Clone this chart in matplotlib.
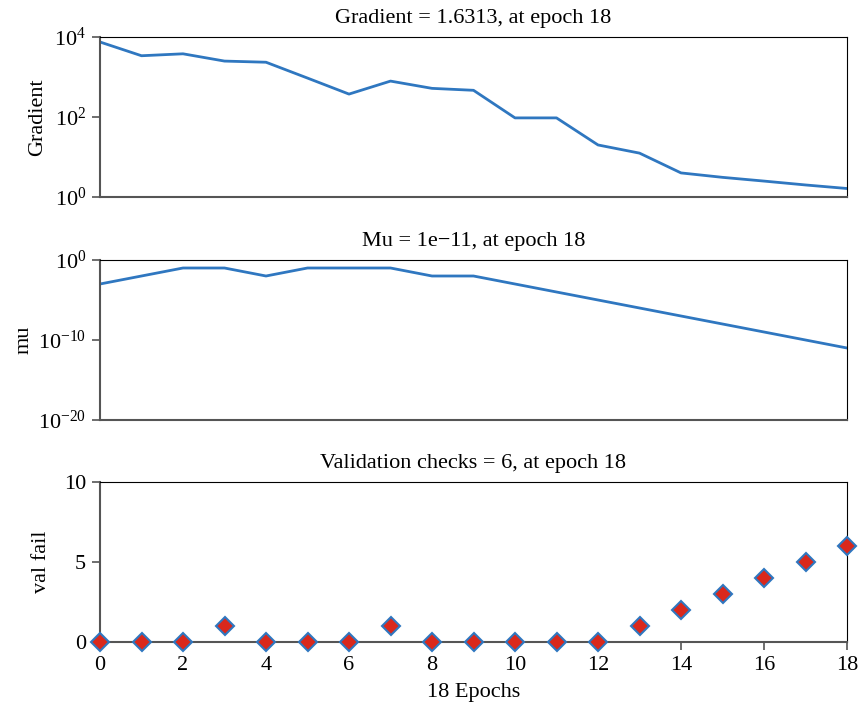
import matplotlib
matplotlib.use("Agg")
import matplotlib.pyplot as plt
import numpy as np

# ── Data ─────────────────────────────────────────────────────────────────────
epochs = list(range(19))
gradient = [7500, 3400, 3800, 2500, 2340, 940, 374, 790, 520, 465,
            95, 95, 20, 12.5, 4.0, 3.1, 2.5, 2.0, 1.6313]
mu = [1e-3, 1e-2, 1e-1, 1e-1, 1e-2, 1e-1, 1e-1, 1e-1, 1e-2, 1e-2,
      1e-3, 1e-4, 1e-5, 1e-6, 1e-7, 1e-8, 1e-9, 1e-10, 1e-11]
val_fail = [0, 0, 0, 1, 0, 0, 0, 1, 0, 0, 0, 0, 0, 1, 2, 3, 4, 5, 6]

titles = ["Gradient = 1.6313, at epoch 18",
          "Mu = 1e\u221211, at epoch 18",
          "Validation checks = 6, at epoch 18"]
ylabels = ["Gradient", "mu", "val fail"]
xticks = list(range(0, 19, 2))

# ── Style ────────────────────────────────────────────────────────────────────
plt.rcParams["font.family"] = ["Liberation Serif", "DejaVu Serif"]
plt.rcParams["mathtext.fontset"] = "custom"
plt.rcParams["mathtext.rm"] = "Liberation Serif"
plt.rcParams["mathtext.it"] = "Liberation Serif:italic"

FS = 16
LINE = "#2f77c0"
FACE = "#d9281c"
SPINE = "#555555"

fig = plt.figure(figsize=(8.6, 7.12), dpi=100)
left, width = 100 / 860, 747 / 860
rows = [(37, 197), (260, 420), (482, 642)]
axes = [fig.add_axes([left, 1 - b / 712, width, (b - t) / 712]) for t, b in rows]

for ax, title, ylabel in zip(axes, titles, ylabels):
    ax.set_title(title, fontsize=FS, pad=10)
    ax.set_ylabel(ylabel, fontsize=FS)
    ax.set_xlim(0, 18)
    for side in ("left", "bottom"):
        ax.spines[side].set_color(SPINE)
        ax.spines[side].set_linewidth(1.5)
    for side in ("top", "right"):
        ax.spines[side].set_color("black")
        ax.spines[side].set_linewidth(0.8)
    ax.tick_params(direction="out", length=6, width=1.2, color=SPINE,
                   labelsize=FS, top=False, right=False, pad=4)

ax1, ax2, ax3 = axes

ax1.semilogy(epochs, gradient, color=LINE, linewidth=2)
ax1.set_ylim(1, 1e4)
ax1.set_yticks([1, 1e2, 1e4])
ax1.minorticks_off()
ax1.set_xticks([])
ax1.yaxis.labelpad = 5

ax2.semilogy(epochs, mu, color=LINE, linewidth=2)
ax2.set_ylim(1e-20, 1)
ax2.set_yticks([1e-20, 1e-10, 1])
ax2.minorticks_off()
ax2.set_xticks([])
ax2.yaxis.labelpad = 3

ax3.plot(epochs, val_fail, linestyle="none", marker="D", markersize=9,
         markerfacecolor=FACE, markeredgecolor=LINE, markeredgewidth=1.5,
         clip_on=False, zorder=3)
ax3.set_ylim(0, 10)
ax3.set_yticks([0, 5, 10])
ax3.set_xticks(xticks)
ax3.set_xlabel("18 Epochs", fontsize=FS, labelpad=6)
ax3.yaxis.labelpad = 9

fig.savefig("out.png", dpi=100)
